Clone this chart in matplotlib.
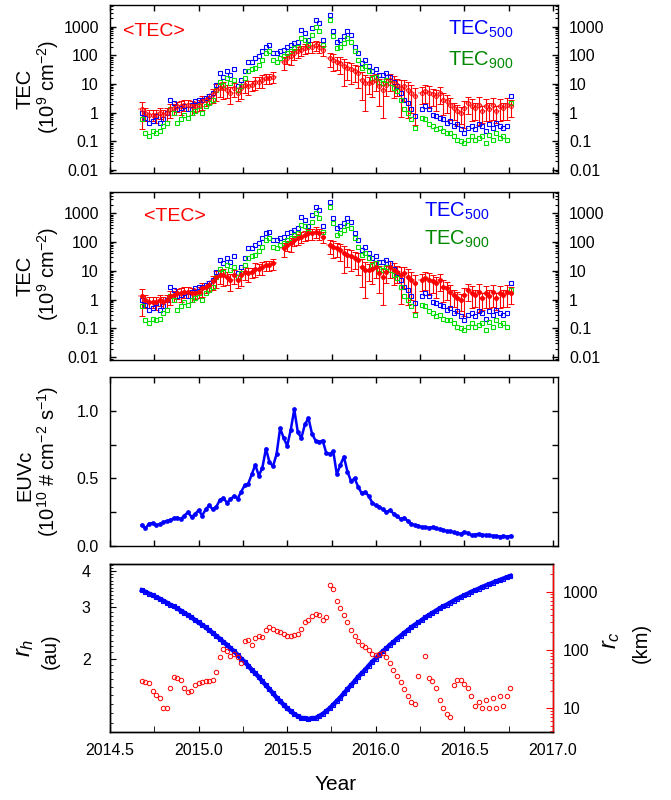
import numpy as np
import matplotlib.pyplot as plt
import matplotlib.ticker as ticker

plt.rcParams['font.family'] = ['Liberation Sans', 'DejaVu Sans']
plt.rcParams['mathtext.fontset'] = 'custom'
plt.rcParams['mathtext.rm'] = 'Liberation Sans'
plt.rcParams['mathtext.it'] = 'Liberation Sans:italic'
plt.rcParams['axes.linewidth'] = 1.0

nan = np.nan

# sample times (year)
year = [2014.68, 2014.70, 2014.72, 2014.74, 2014.76, 2014.78, 2014.80, 2014.82, 2014.84, 2014.86,
        2014.88, 2014.90, 2014.92, 2014.94, 2014.96, 2014.98, 2015.00, 2015.02, 2015.04, 2015.06,
        2015.08, 2015.10, 2015.12, 2015.14, 2015.16, 2015.18, 2015.20, 2015.22, 2015.24, 2015.26,
        2015.28, 2015.30, 2015.32, 2015.34, 2015.36, 2015.38, 2015.40, 2015.42, 2015.44, 2015.46,
        2015.48, 2015.50, 2015.52, 2015.54, 2015.56, 2015.58, 2015.60, 2015.62, 2015.64, 2015.66,
        2015.68, 2015.70, 2015.72, 2015.74, 2015.76, 2015.78, 2015.80, 2015.82, 2015.84, 2015.86,
        2015.88, 2015.90, 2015.92, 2015.94, 2015.96, 2015.98, 2016.00, 2016.02, 2016.04, 2016.06,
        2016.08, 2016.10, 2016.12, 2016.14, 2016.16, 2016.18, 2016.20, 2016.22, 2016.24, 2016.26,
        2016.28, 2016.30, 2016.32, 2016.34, 2016.36, 2016.38, 2016.40, 2016.42, 2016.44, 2016.46,
        2016.48, 2016.50, 2016.52, 2016.54, 2016.56, 2016.58, 2016.60, 2016.62, 2016.64, 2016.66,
        2016.68, 2016.70, 2016.72, 2016.74, 2016.76]

# TEC (1e9 cm^-2)
tec500 = [1.0, 0.66, 0.44, 0.5, 0.76, 0.44, 0.58, 1.0, 2.8, 2.2,
          1.3, 1.4, 1.7, 1.3, 1.9, 2.5, 2.8, 2.8, 3.2, 3.7,
          4.9, 9.3, 24, 18, 28, 21, 32, 8.3, 14, 28,
          60, 60, 79, 91, 135, 200, 230, 117, 117, 135,
          155, 200, 230, 263, 300, 760, 590, 350, 870, 1700,
          1300, 350, nan, 2500, 700, 300, 350, 450, 680, 510,
          200, 117, 54, 69, 41, 28, 32, 21, 21, 24,
          18, 12, 8.3, 4.9, 2.8, 2.2, 1.3, 0.76, nan, 1.3,
          1.7, 1.3, 0.85, 0.76, 0.66, 0.58, 0.44, 0.5, 0.34, 0.39,
          0.26, 0.2, 0.3, 0.34, 0.26, 0.39, 0.34, 0.22, 0.39, 0.3,
          0.44, 0.34, 0.3, 0.34, 3.7]

tec900 = [0.58, 0.2, 0.15, 0.22, 0.2, 0.22, 0.34, 0.44, 1.3, 1.0,
          0.44, 0.58, 0.85, 0.66, 1.0, 1.1, 1.7, 1.0, 1.7, 2.2,
          2.8, 6.3, 12, 9.3, 16, 11, 14, 6.3, 8.3, 16,
          28, 32, 35, 47, 69, 117, 135, 69, 60, 79,
          91, 117, 135, 178, 200, 400, 350, 230, 510, 1000,
          680, 230, nan, 1700, 450, 178, 200, 263, 400, 300,
          135, 69, 35, 41, 28, 16, 18, 12, 11, 14,
          11, 7.2, 5.5, 2.8, 1.3, 1.0, 0.58, 0.3, nan, 0.66,
          0.58, 0.39, 0.34, 0.26, 0.3, 0.22, 0.2, 0.2, 0.15, 0.11,
          0.1, 0.09, 0.11, 0.15, 0.11, 0.13, 0.15, 0.09, 0.17, 0.11,
          0.2, 0.13, 0.15, 0.11, 2.2]

tec_mean = [1.3, 1.0, 0.85, 0.85, 0.85, 1.0, 0.85, 1.0, 1.3, 1.4,
            1.7, 1.7, 1.9, 1.9, 1.7, 1.7, 1.9, 2.5, 2.8, 3.2,
            4.3, 6.3, 7.2, 7.2, 6.3, 4.9, 7.2, 4.9, 7.2, 9.3,
            8.3, 9.3, 12, 12, 14, 16, 16, 18, nan, nan,
            60, 79, 91, 117, 135, 155, 178, 200, 200, 230,
            200, 155, nan, 79, 69, 60, 54, 41, 35, 32,
            28, 24, 14, 11, 11, 12, 14, 8.3, 6.3, 9.3,
            14, 11, 9.3, 7.2, 8.3, 6.3, 4.9, 3.7, nan, 4.9,
            5.5, 4.9, 4.3, 3.7, 4.9, 2.8, 2.5, 1.9, 1.4, 1.1,
            1.0, 1.4, 2.2, 1.7, 1.4, 1.9, 1.1, 1.7, 1.3, 1.9,
            1.1, 1.7, 1.4, 1.9, 1.7]

# relative error of <TEC>
tec_err_rel = [0.8, 0.5, 0.4, 0.4, 0.5, 0.4, 0.4, 0.5, 0.5, 0.4,
               0.4, 0.5, 0.4, 0.4, 0.5, 0.4, 0.4, 0.5, 0.4, 0.4,
               0.5, 0.6, 0.5, 0.6, 0.5, 0.6, 0.5, 0.5, 0.6, 0.5,
               0.5, 0.4, 0.5, 0.4, 0.5, 0.4, 0.4, 0.4, 0.4, 0.4,
               0.5, 0.4, 0.5, 0.4, 0.4, 0.4, 0.4, 0.4, 0.4, 0.4,
               0.4, 0.4, 0.4, 0.5, 0.6, 0.5, 0.6, 0.8, 0.6, 0.7,
               0.6, 0.7, 0.8, 0.9, 0.6, 0.7, 0.6, 0.8, 0.9, 0.6,
               0.6, 0.7, 0.6, 0.9, 0.7, 0.9, 0.8, 0.9, 0.4, 0.6,
               0.6, 0.7, 0.6, 0.7, 0.6, 0.7, 0.6, 0.7, 0.6, 0.7,
               0.6, 0.8, 0.6, 0.7, 0.6, 0.8, 0.6, 0.7, 0.6, 0.7,
               0.6, 0.7, 0.6, 0.7, 0.6]

# EUVc (1e10 # cm^-2 s^-1)
euvc = [0.155, 0.13, 0.165, 0.17, 0.155, 0.16, 0.175, 0.185, 0.19, 0.205,
        0.21, 0.20, 0.225, 0.25, 0.215, 0.235, 0.265, 0.225, 0.27, 0.30,
        0.27, 0.29, 0.34, 0.355, 0.32, 0.345, 0.37, 0.35, 0.40, 0.45,
        0.46, 0.53, 0.60, 0.52, 0.58, 0.72, 0.62, 0.59, 0.68, 0.87,
        0.80, 0.74, 0.86, 1.01, 0.84, 0.80, 0.90, 0.945, 0.83, 0.78,
        0.77, 0.78, 0.69, 0.68, 0.70, 0.53, 0.60, 0.66, 0.55, 0.48,
        0.50, 0.44, 0.39, 0.40, 0.37, 0.32, 0.30, 0.29, 0.27, 0.25,
        0.265, 0.24, 0.22, 0.20, 0.21, 0.185, 0.165, 0.155, 0.15, 0.14,
        0.14, 0.135, 0.14, 0.13, 0.125, 0.12, 0.11, 0.11, 0.10, 0.095,
        0.09, 0.105, 0.095, 0.08, 0.085, 0.09, 0.085, 0.08, 0.08, 0.075,
        0.075, 0.07, 0.075, 0.07, 0.075]

# heliocentric distance (au)
r_h = [3.43, 3.39, 3.34, 3.30, 3.25, 3.21, 3.16, 3.11, 3.06, 3.02,
       2.97, 2.92, 2.87, 2.82, 2.77, 2.71, 2.66, 2.61, 2.56, 2.50,
       2.45, 2.39, 2.34, 2.28, 2.23, 2.17, 2.12, 2.06, 2.00, 1.95,
       1.89, 1.83, 1.78, 1.73, 1.67, 1.62, 1.57, 1.52, 1.47, 1.43,
       1.39, 1.35, 1.32, 1.29, 1.27, 1.25, 1.25, 1.24, 1.25, 1.25,
       1.27, 1.29, 1.32, 1.35, 1.39, 1.43, 1.47, 1.52, 1.57, 1.62,
       1.67, 1.73, 1.78, 1.83, 1.89, 1.95, 2.00, 2.06, 2.12, 2.17,
       2.23, 2.28, 2.34, 2.39, 2.45, 2.50, 2.56, 2.61, 2.66, 2.71,
       2.77, 2.82, 2.87, 2.92, 2.97, 3.02, 3.06, 3.11, 3.16, 3.21,
       3.25, 3.30, 3.34, 3.39, 3.43, 3.47, 3.52, 3.56, 3.60, 3.64,
       3.68, 3.72, 3.76, 3.80, 3.84]

# critical distance (km)
r_c = [29, 28, 27, 20, 17, 15, 10, 10, 22, 34,
       33, 31, 22, 19, 20, 25, 27, 28, 29, 29,
       30, 42, 75, 105, 95, 80, 85, 75, 60, 140,
       150, 120, 160, 170, 165, 220, 250, 230, 215, 200,
       185, 175, 170, 180, 185, 230, 300, 330, 380, 410,
       400, 320, 370, 1300, 1100, 700, 520, 400, 300, 220,
       170, 140, 120, 110, 100, 85, 82, 85, 88, 75,
       60, 45, 35, 28, 21, 16, 13, 12, 35, nan,
       80, 33, 29, 22, 14, 10, 8, 7, 25, 30,
       30, 26, 22, 16, 11, 13, 10, 14, 10, 15,
       10, 16, 11, 16, 22]

tec_ticks = [0.01, 0.1, 1, 10, 100, 1000]
tec_ticklabels = ['0.01', '0.1', '1', '10', '100', '1000']


def style_ticks(ax):
    ax.tick_params(which='both', direction='in', top=True, right=True)
    ax.tick_params(which='major', length=4, width=1)
    ax.tick_params(which='minor', length=2.5, width=0.8)


def tec_panel(ax, filled):
    yerr = np.array(tec_err_rel) * np.array(tec_mean)
    ax.errorbar(year, tec_mean, xerr=0.02, fmt='none', ecolor='#ff9a9a',
                elinewidth=1.2, capsize=0)
    ax.errorbar(year, tec_mean, yerr=yerr, fmt='o', ms=2.8,
                mfc='red' if filled else 'none', mec='red', mew=0.7,
                ecolor='red', elinewidth=0.8, capsize=2, capthick=0.8)
    ax.plot(year, tec500, 's', ms=3.0, mfc='none', mec='#0000ff', mew=0.8)
    ax.plot(year, tec900, 's', ms=3.0, mfc='none', mec='#00dd00', mew=0.8)
    ax.set_yscale('log')
    ax.set_ylim(0.008, 5600)
    ax.set_xlim(2014.5, 2017.028)
    ax.yaxis.set_major_locator(ticker.FixedLocator(tec_ticks))
    ax.yaxis.set_major_formatter(ticker.FixedFormatter(tec_ticklabels))
    ax.yaxis.set_minor_locator(ticker.LogLocator(subs=np.arange(2, 10), numticks=20))
    ax.yaxis.set_minor_formatter(ticker.NullFormatter())
    ax.xaxis.set_major_locator(ticker.MultipleLocator(0.25))
    style_ticks(ax)
    ax.tick_params(labelbottom=False, labelright=True, labelsize=11.5)
    ax.tick_params(axis='y', which='major', pad=8)


fig = plt.figure(figsize=(6.71, 8.0), dpi=100)

ax1 = fig.add_axes([0.1639, 0.7841, 0.6677, 0.2096])
tec_panel(ax1, False)
ax1.text(0.03, 0.845, '<TEC>', color='red', fontsize=14, transform=ax1.transAxes, va='center')
ax1.text(0.755, 0.857, 'TEC$_{500}$', color='#0000ff', fontsize=14.5, transform=ax1.transAxes, va='center')
ax1.text(0.755, 0.672, 'TEC$_{900}$', color='#008800', fontsize=14.5, transform=ax1.transAxes, va='center')

ax2 = fig.add_axes([0.1639, 0.55, 0.6677, 0.2104])
tec_panel(ax2, True)
ax2.text(0.075, 0.85, '<TEC>', color='red', fontsize=14, transform=ax2.transAxes, va='center')
ax2.text(0.70, 0.885, 'TEC$_{500}$', color='#0000ff', fontsize=14.5, transform=ax2.transAxes, va='center')
ax2.text(0.70, 0.714, 'TEC$_{900}$', color='#008800', fontsize=14.5, transform=ax2.transAxes, va='center')

ax3 = fig.add_axes([0.1639, 0.3175, 0.6677, 0.21125])
ax3.plot(year, euvc, '-', color='#0000ff', lw=1.8)
ax3.plot(year, euvc, 'o', ms=2.4, color='#0000ff')
ax3.set_xlim(2014.5, 2017.028)
ax3.set_ylim(0, 1.25)
ax3.yaxis.set_major_locator(ticker.FixedLocator([0, 0.25, 0.5, 0.75, 1.0]))
ax3.yaxis.set_major_formatter(ticker.FixedFormatter(['0.0', '', '0.5', '', '1.0']))
ax3.xaxis.set_major_locator(ticker.MultipleLocator(0.25))
style_ticks(ax3)
ax3.tick_params(labelbottom=False, labelsize=11.5)
ax3.tick_params(axis='y', pad=8)

ax4 = fig.add_axes([0.1639, 0.085, 0.6602, 0.21])
ax4.plot(year, r_h, '-', color='#0000ff', lw=3.2)
ax4.plot(year, r_h, 's', ms=2.8, mfc='none', mec='#0000ff', mew=0.8)
ax4.set_yscale('log')
ax4.set_ylim(1.12, 4.22)
ax4.set_xlim(2014.5, 2017.0)
ax4.yaxis.set_major_locator(ticker.FixedLocator([2, 3, 4]))
ax4.yaxis.set_major_formatter(ticker.FixedFormatter(['2', '3', '4']))
ax4.yaxis.set_minor_locator(ticker.MultipleLocator(0.1))
ax4.yaxis.set_minor_formatter(ticker.NullFormatter())
ax4.xaxis.set_major_locator(ticker.MultipleLocator(0.5))
ax4.xaxis.set_minor_locator(ticker.MultipleLocator(0.25))
ax4.xaxis.set_major_formatter(ticker.FormatStrFormatter('%.1f'))
ax4.tick_params(which='both', direction='in', top=False, right=False, labelsize=11.5)
ax4.tick_params(which='major', length=4)
ax4.tick_params(axis='x', which='minor', length=4)
ax4.tick_params(axis='y', which='minor', length=2.5)
ax4.tick_params(axis='y', which='major', pad=14)
ax4.tick_params(axis='x', which='major', pad=8)

ax4r = ax4.twinx()
ax4r.plot(year, r_c, 'o', ms=3.2, mfc='none', mec='red', mew=0.7)
ax4r.set_yscale('log')
ax4r.set_ylim(3.9, 2980)
ax4r.yaxis.set_major_locator(ticker.FixedLocator([10, 100, 1000]))
ax4r.yaxis.set_major_formatter(ticker.FixedFormatter(['10', '100', '1000']))
ax4r.yaxis.set_minor_locator(ticker.LogLocator(subs=np.arange(2, 10), numticks=20))
ax4r.yaxis.set_minor_formatter(ticker.NullFormatter())
ax4r.spines['right'].set_color('red')
ax4r.tick_params(which='both', direction='in', color='red', labelsize=11.5, pad=7)
ax4r.tick_params(which='major', length=5)
ax4r.tick_params(which='minor', length=2.5)

# axis titles
W, H = 671.0, 800.0
fig.text(25 / W, 1 - 89 / H, 'TEC', rotation=90, ha='center', va='center', fontsize=14.5)
fig.text(48 / W, 1 - 87 / H, '(10$^9$ cm$^{-2}$)', rotation=90, ha='center', va='center', fontsize=14.5)
fig.text(25 / W, 1 - 276 / H, 'TEC', rotation=90, ha='center', va='center', fontsize=14.5)
fig.text(48 / W, 1 - 274 / H, '(10$^9$ cm$^{-2}$)', rotation=90, ha='center', va='center', fontsize=14.5)
fig.text(25 / W, 1 - 475 / H, 'EUVc', rotation=90, ha='center', va='center', fontsize=14.5)
fig.text(48 / W, 1 - 461 / H, '(10$^{10}$ # cm$^{-2}$ s$^{-1}$)', rotation=90, ha='center', va='center', fontsize=14.5)
fig.text(25 / W, 1 - 648 / H, '$r_h$', rotation=90, ha='center', va='center', fontsize=17)
fig.text(50 / W, 1 - 651 / H, '(au)', rotation=90, ha='center', va='center', fontsize=14.5)
fig.text(611 / W, 1 - 640 / H, '$r_c$', rotation=90, ha='center', va='center', fontsize=17)
fig.text(641 / W, 1 - 643 / H, '(km)', rotation=90, ha='center', va='center', fontsize=14.5)
fig.text(336 / W, 1 - 785 / H, 'Year', ha='center', va='center', fontsize=15)

fig.savefig('out.png', dpi=100)
